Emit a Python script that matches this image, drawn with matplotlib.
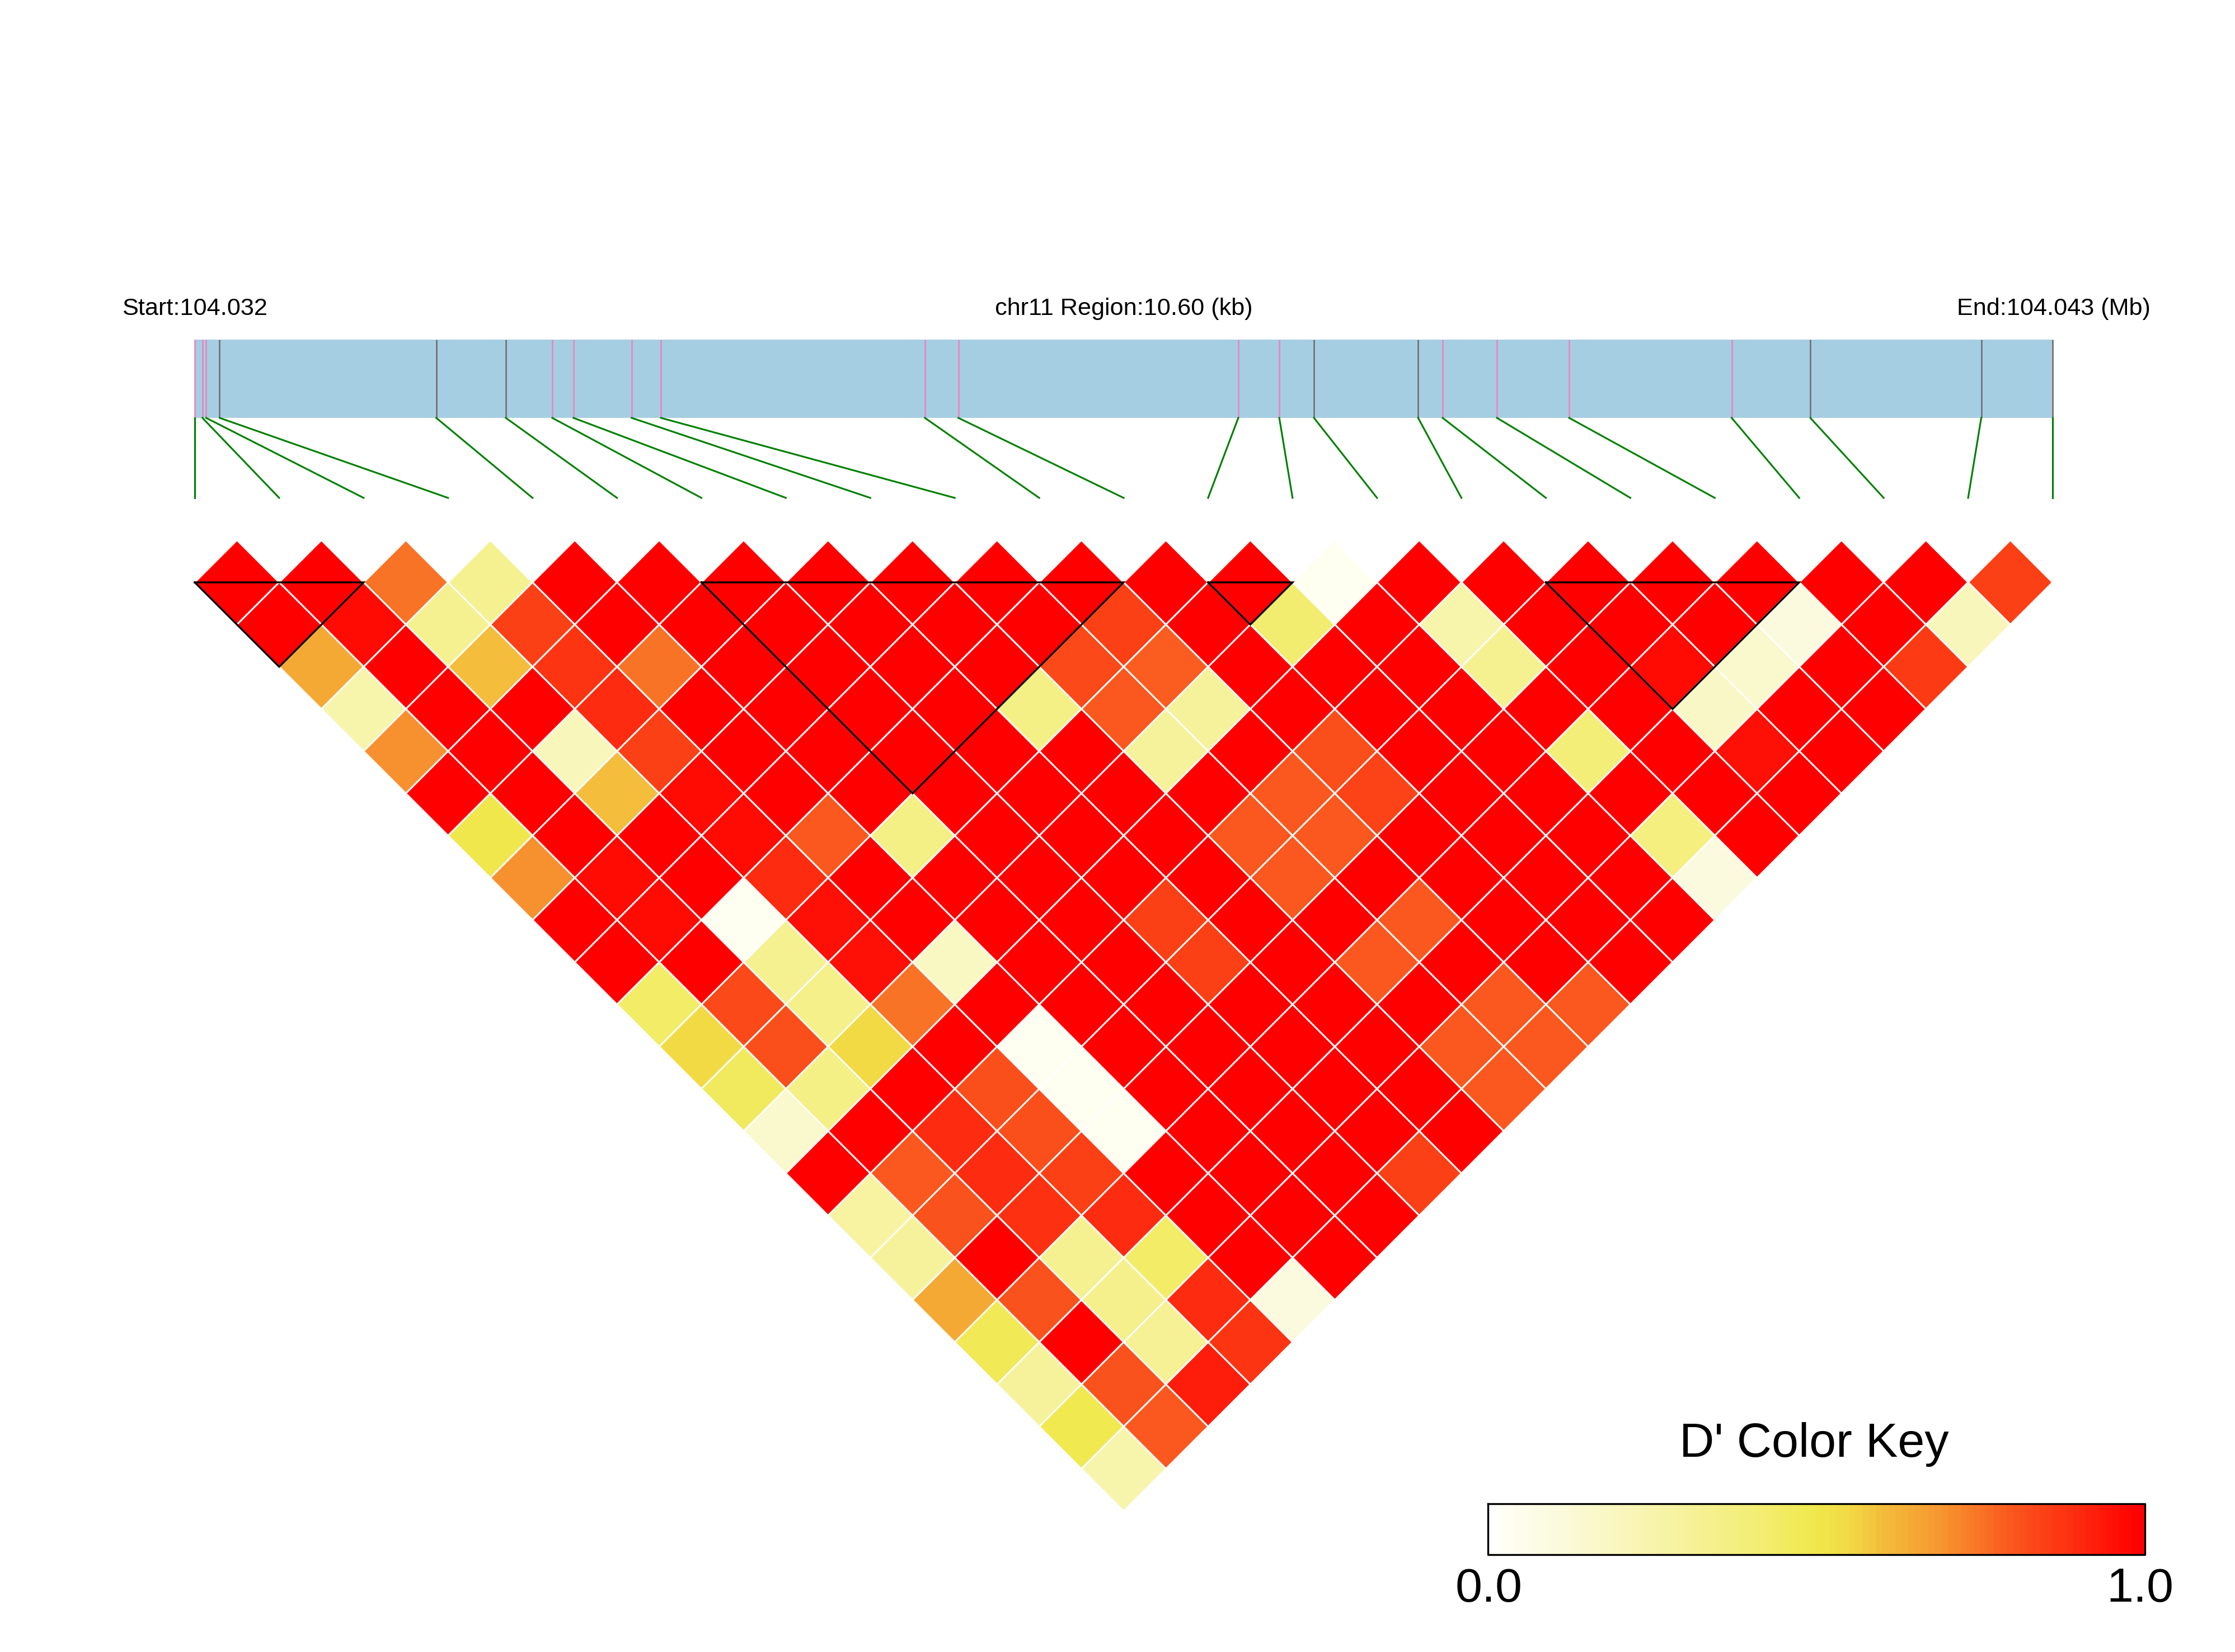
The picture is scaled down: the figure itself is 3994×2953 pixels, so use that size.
"""LD heatmap of a chr11 region with gene track and D' colour key."""

import matplotlib
matplotlib.use("Agg")
import matplotlib.pyplot as plt
import numpy as np
from matplotlib.collections import PolyCollection
from matplotlib.colors import LinearSegmentedColormap

plt.rcParams["font.family"] = ["Liberation Sans", "DejaVu Sans"]

# ----- Data -------------------------------------------------------------------
REGION_KB = 10.60
START_LABEL = "Start:104.032"
MID_LABEL = "chr11 Region:10.60 (kb)"
END_LABEL = "End:104.043 (Mb)"

# SNP positions, kb from the region start
snp_kb = [0.000, 0.044, 0.065, 0.142, 1.378, 1.775, 2.040, 2.161, 2.493, 2.660,
          4.166, 4.357, 5.954, 6.188, 6.386, 6.980, 7.120, 7.430, 7.842, 8.769,
          9.218, 10.193, 10.600]
# 1 = pink tick, 0 = grey tick
snp_pink = [1, 1, 1, 0, 0, 0, 1, 1, 1, 1, 1, 1, 1, 1, 0, 0, 1, 1, 1, 1, 0, 0, 0]

# D' by distance between SNPs (row 0 = neighbours)
row_00 = [1, 1, .75, .33, 1, 1, 1, 1, 1, 1, 1, 1, 1, .03, 1, 1, 1, 1, 1, 1, 1, .85]
row_01 = [1, .97, .33, .85, 1, 1, 1, 1, 1, 1, .85, 1, .42, 1, .25, 1, 1, 1, .1, 1, .2]
row_02 = [.65, 1, .6, .88, .75, 1, 1, 1, 1, .83, .79, 1, 1, 1, .33, 1, .97, .15, 1, .86]
row_03 = [.25, 1, 1, .9, 1, 1, 1, 1, .36, .8, .3, 1, 1, 1, 1, 1, .17, 1, 1]
row_04 = [.7, 1, .2, .85, 1, 1, 1, 1, 1, .3, 1, .82, 1, 1, .4, 1, .96, 1]
row_05 = [1, 1, .6, .97, 1, 1, 1, 1, 1, 1, .8, .84, 1, 1, 1, 1, 1]
row_06 = [.5, 1, 1, .97, .8, .36, 1, 1, 1, .8, .8, 1, 1, 1, .38, 1]
row_07 = [.7, .97, 1, .9, 1, 1, 1, 1, 1, .8, 1, 1, 1, 1, .1]
row_08 = [1, .97, .03, .96, 1, 1, 1, .85, 1, 1, .8, 1, 1, 1]
row_09 = [1, 1, .33, .96, .18, 1, 1, .85, 1, .8, 1, 1, 1]
row_10 = [.44, .83, .35, .75, 1, 1, 1, 1, 1, 1, .8, .8]
row_11 = [.55, .82, .55, 1, .03, 1, 1, 1, 1, .8, .8]
row_12 = [.46, .36, 1, .82, .03, 1, 1, 1, 1, .8]
row_13 = [.15, 1, .9, .82, .03, 1, 1, 1, 1]
row_14 = [1, .8, .9, .85, 1, 1, 1, .85]
row_15 = [.28, .81, .89, .9, 1, 1, 1]
row_16 = [.3, 1, .33, .44, 1, 1]
row_17 = [.65, .81, .34, .9, .1]
row_18 = [.48, 1, .32, .88]
row_19 = [.3, .81, .93]
row_20 = [.49, .8]
row_21 = [.25]
dprime_rows = [row_00, row_01, row_02, row_03, row_04, row_05, row_06, row_07,
               row_08, row_09, row_10, row_11, row_12, row_13, row_14, row_15,
               row_16, row_17, row_18, row_19, row_20, row_21]

# LD blocks, first and last SNP index
blocks = [(0, 2), (6, 11), (12, 13), (16, 19)]

# ----- Layout, in pixels of the 3994x2953 canvas ------------------------------
WIDTH, HEIGHT = 3994, 2953
DPI = 300
X_LEFT, X_RIGHT = 348, 3668
BAND_TOP, BAND_BOTTOM = 607, 747
LINK_BOTTOM = 890
CELL_TOP = 1041
STEP = (X_RIGHT - X_LEFT) / (len(snp_kb) - 1)

KEY_LEFT, KEY_RIGHT = 2659, 3833
KEY_TOP, KEY_BOTTOM = 2688, 2779

key_cmap = LinearSegmentedColormap.from_list("dprime", [
    (0.00, "#FFFFFF"), (0.03, "#FEFEF0"), (0.10, "#FBFADD"), (0.20, "#F9F6BC"),
    (0.30, "#F6F29A"), (0.40, "#F3EE78"), (0.50, "#F0E84C"), (0.55, "#F2DA45"),
    (0.60, "#F4BD3C"), (0.65, "#F5A935"), (0.70, "#F7922F"), (0.75, "#F97526"),
    (0.80, "#FA581E"), (0.85, "#FC4016"), (0.90, "#FD2D10"), (0.95, "#FF1408"),
    (1.00, "#FF0000")])


def main():
    fig = plt.figure(figsize=(WIDTH / DPI, HEIGHT / DPI), dpi=DPI)
    ax = fig.add_axes([0, 0, 1, 1])
    ax.set_xlim(0, WIDTH)
    ax.set_ylim(HEIGHT, 0)
    ax.axis("off")

    # gene track
    ax.fill_between([X_LEFT, X_RIGHT], BAND_TOP, BAND_BOTTOM, color="#A6CEE3", lw=0)
    snp_x = [X_LEFT + kb / REGION_KB * (X_RIGHT - X_LEFT) for kb in snp_kb]
    for i, x in enumerate(snp_x):
        tick = "#E78AC3" if snp_pink[i] else "#777777"
        ax.plot([x, x], [BAND_TOP, BAND_BOTTOM], color=tick, lw=0.7, solid_capstyle="butt")
        ax.plot([x, X_LEFT + i * STEP], [BAND_BOTTOM, LINK_BOTTOM], color="green", lw=0.75)

    ax.text(X_LEFT, 563, START_LABEL, fontsize=10.4, ha="center", va="baseline")
    ax.text((X_LEFT + X_RIGHT) / 2, 563, MID_LABEL, fontsize=10.4, ha="center", va="baseline")
    ax.text(X_RIGHT + 2, 563, END_LABEL, fontsize=10.4, ha="center", va="baseline")

    # diamonds
    polys, values = [], []
    half = STEP / 2
    for r, row in enumerate(dprime_rows):
        for i, val in enumerate(row):
            cx = X_LEFT + STEP * (i + (r + 1) / 2)
            cy = CELL_TOP + r * half
            polys.append([(cx - half, cy), (cx, cy - half), (cx + half, cy), (cx, cy + half)])
            values.append(val)
    cells = PolyCollection(polys, array=np.array(values), cmap=key_cmap,
                           edgecolors="white", linewidths=0.7)
    cells.set_clim(0, 1)
    ax.add_collection(cells)

    # LD blocks
    for first, last in blocks:
        x0 = X_LEFT + first * STEP
        x1 = X_LEFT + last * STEP
        ax.plot([x0, x1, (x0 + x1) / 2, x0],
                [CELL_TOP, CELL_TOP, CELL_TOP + (last - first) * half, CELL_TOP],
                color="black", lw=0.8, solid_joinstyle="miter")

    # colour key
    key_edges = np.linspace(KEY_LEFT, KEY_RIGHT, 101)
    key_vals = np.linspace(0, 1, 100)[np.newaxis, :]
    ax.pcolormesh(key_edges, [KEY_TOP, KEY_BOTTOM], key_vals, cmap=key_cmap,
                  vmin=0, vmax=1, shading="flat", rasterized=True)
    ax.plot([KEY_LEFT, KEY_RIGHT, KEY_RIGHT, KEY_LEFT, KEY_LEFT],
            [KEY_TOP, KEY_TOP, KEY_BOTTOM, KEY_BOTTOM, KEY_TOP], color="black", lw=0.8)
    ax.text(3242, 2604, "D' Color Key", fontsize=20.7, ha="center", va="baseline")
    ax.text(2661, 2863, "0.0", fontsize=20.7, ha="center", va="baseline")
    ax.text(3824, 2863, "1.0", fontsize=20.7, ha="center", va="baseline")

    fig.savefig("out.png", dpi=DPI, facecolor="white")


if __name__ == "__main__":
    main()
